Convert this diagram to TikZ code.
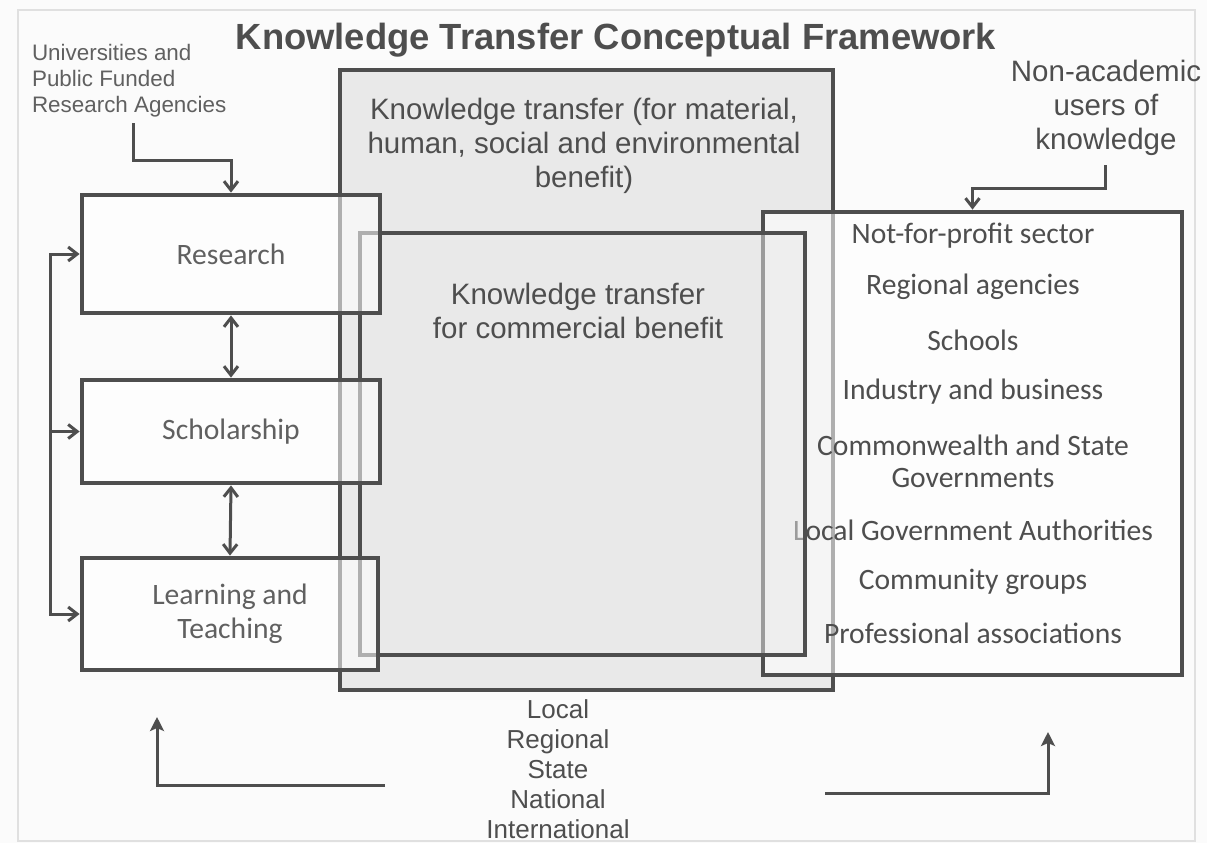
\documentclass[tikz,border=0pt]{standalone}
\usepackage{fontspec}
\setmainfont{Liberation Sans}
\newfontfamily\boxfont{Carlito}
\usetikzlibrary{arrows.meta,fit}

\definecolor{ink}{HTML}{4E4E4E}
\definecolor{paper}{HTML}{FBFBFB}
\definecolor{shade}{HTML}{E9E9E9}

\tikzset{
  frame/.style={draw=ink, line width=2.4pt, inner sep=0pt},
  wbox/.style={frame, fill=white, fill opacity=0.55},
  boxtext/.style={text=ink!90, text opacity=1, font=\boxfont\fontsize{14.8}{17}\selectfont, align=center},
  item/.style={text=ink, font=\boxfont\fontsize{14.8}{16}\selectfont, align=center},
  note/.style={text=ink, font=\fontsize{14.75}{17}\selectfont, align=center},
  link/.style={draw=ink, line width=1.5pt},
  barb/.style={-{Straight Barb[length=4.5pt,width=7pt]}},
  both/.style={{Straight Barb[length=4.5pt,width=7pt]}-{Straight Barb[length=4.5pt,width=7pt]}},
  up/.style={-{Stealth[length=7pt,width=7pt,inset=1.5pt]}}
}

\begin{document}
\begin{tikzpicture}[x=0.5pt,y=-0.5pt]
\useasboundingbox[fill=paper] (0,0) rectangle (1207,843);
\draw[black!12, line width=0.6pt] (18,10) rectangle (1195,841);

\node[text=ink, font=\bfseries\fontsize{18.2}{20}\selectfont] (title) at (616,40)
  {Knowledge Transfer Conceptual Framework};

% the two knowledge transfer areas and the users
\node[frame, fill=shade, fit={(340,70) (833,690)}] (kt) {};
\node[note] (kt text) at (584,146)
  {Knowledge transfer (for material,\\human, social and environmental\\benefit)};

\node[frame, fill=white, fill opacity=0.55, fit={(763,212) (1182,675)}] (users) {};
\foreach \y/\t [count=\i] in {236/Not-for-profit sector, 287/Regional agencies,
    340/Schools, 392/Industry and business,
    461/{Commonwealth and State\\Governments}, 530/Local Government Authorities,
    582/Community groups, 633/Professional associations}
  \node[item] (u\i) at (973,\y) {\t};

\node[frame, fill=shade, fill opacity=0.5, fit={(360,233) (805,655)}] (kc) {};
\node[note] (kc text) at (578,311) {Knowledge transfer\\for commercial benefit};

% university activities
\node[wbox, fit={(82,195) (380,313)}] (research) {};
\node[boxtext] (research text) at (research.center) {Research};
\node[wbox, fit={(82,380) (380,483)}] (scholar) {};
\node[boxtext] (scholar text) at (scholar.center) {Scholarship};
\node[wbox, fit={(82,558) (378,670)}] (learn) {};
\node[boxtext] (learn text) at (learn.center) {Learning and\\Teaching};

\draw[link, both] (research.south) -- (scholar.north);
\draw[link, both] (scholar.south) -- (learn.north);

\coordinate (loop) at (50,0);
\draw[link, both] (research.west) -- (research.west -| loop) |- (learn.west);
\draw[link, barb] (scholar.west -| loop) -- (scholar.west);

% sources and users
\node[text=ink!90, font=\fontsize{11.2}{13}\selectfont, align=left, anchor=west] (univ) at (25,81)
  {Universities and\\Public Funded\\Research Agencies};
\coordinate (univ foot) at (133,123);
\draw[link, barb] (univ foot) -- ++(0,37) -| (research.north);

\node[note] (nonacad) at (1106,108) {Non-academic\\users of\\knowledge};
\coordinate (users foot) at (1105,165);
\draw[link, barb] (users foot) -- ++(0,23) -| (users.north);

% scale of transfer
\node[text=ink, font=\fontsize{13}{15}\selectfont, align=center] (scale) at (558,769)
  {Local\\Regional\\State\\National\\International};
\coordinate (scale left) at (385,785);
\coordinate (left up) at (157,717);
\draw[link, up] (scale left) -| (left up);
\coordinate (scale right) at (825,793);
\coordinate (right up) at (1048,732);
\draw[link, up] (scale right) -| (right up);
\end{tikzpicture}
\end{document}
